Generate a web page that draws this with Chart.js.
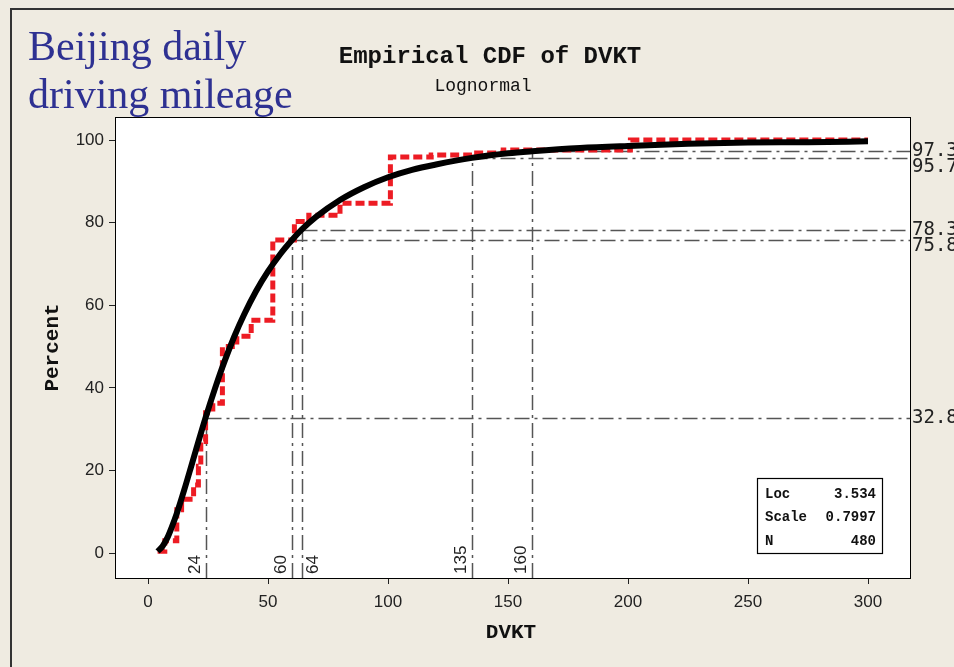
<!DOCTYPE html>
<html>
<head>
<meta charset="utf-8">
<script src="https://cdn.jsdelivr.net/npm/chart.js@4/dist/chart.umd.min.js"></script>
<style>
    html, body { margin: 0; padding: 0; background: #efebe1; }
    #wrap { position: relative; width: 954px; height: 667px; }
</style>
</head>
<body>
<div id="wrap"><canvas id="cdf" width="954" height="667"></canvas></div>
<script>
// Axis ticks
const xTicks = [0, 50, 100, 150, 200, 250, 300];
const yTicks = [0, 20, 40, 60, 80, 100];

// Empirical CDF (step points)
const ecdfX = [4, 7, 12, 14, 19, 21, 22, 24, 27, 31, 37, 43, 52, 61, 67, 80, 101, 118, 135, 148, 201, 300];
const ecdfY = [0.4, 3, 10.5, 13, 16.5, 21, 27, 34, 36.3, 50, 52.5, 56.4, 75.8, 80.3, 81.8, 84.7, 95.9, 96.4, 96.9, 97.6, 100, 100];

// Fitted lognormal curve
const fitX = [4, 6, 8, 10, 12, 15, 18, 20, 24, 28, 32, 36, 40, 45, 50, 55, 60, 64, 70, 80, 90, 100, 110, 120, 135, 150, 160, 180, 200, 225, 250, 275, 300];
const fitY = [0.4, 1.6, 3.6, 6.4, 9.6, 15.1, 21.0, 25.0, 32.8, 40.0, 46.6, 52.5, 57.7, 63.4, 68.2, 72.3, 75.8, 78.3, 81.4, 85.5, 88.6, 91.0, 92.8, 94.1, 95.7, 96.8, 97.3, 98.1, 98.6, 99.1, 99.4, 99.5, 99.7];

// Reference lines
const refX = [24, 60, 64, 135, 160];
const refY = [32.8, 75.8, 78.3, 95.7, 97.3];

// Parameter table
const statNames = ['Loc', 'Scale', 'N'];
const statValues = ['3.534', '0.7997', '480'];

const tickFont = { family: "'Liberation Sans', Arial, sans-serif", size: 17 };

const decorations = {
    id: 'decorations',
    beforeDraw(chart) {
        const { ctx, chartArea: a } = chart;
        ctx.save();
        ctx.fillStyle = '#efebe1';
        ctx.fillRect(0, 0, chart.width, chart.height);
        // slide frame
        ctx.strokeStyle = '#333';
        ctx.lineWidth = 2;
        ctx.beginPath();
        ctx.moveTo(11, chart.height);
        ctx.lineTo(11, 9);
        ctx.lineTo(chart.width, 9);
        ctx.stroke();
        ctx.fillStyle = '#fff';
        ctx.fillRect(a.left, a.top, a.right - a.left, a.bottom - a.top);
        ctx.restore();
    },
    beforeDatasetsDraw(chart) {
        const { ctx, chartArea: a, scales: { x, y } } = chart;
        ctx.save();
        ctx.strokeStyle = '#555';
        ctx.lineWidth = 1.5;
        ctx.setLineDash([15, 5, 3, 5]);
        refX.forEach((v, i) => {
            const px = Math.round(x.getPixelForValue(v)) + 0.5;
            const py = Math.round(y.getPixelForValue(refY[i])) + 0.5;
            ctx.beginPath();
            ctx.moveTo(px, a.bottom);
            ctx.lineTo(px, py);
            ctx.stroke();
            ctx.beginPath();
            ctx.moveTo(px, py);
            ctx.lineTo(a.right, py);
            ctx.stroke();
        });
        ctx.restore();
    },
    afterDraw(chart) {
        const { ctx, chartArea: a, scales: { x, y } } = chart;
        ctx.save();
        // plot box
        ctx.strokeStyle = '#000';
        ctx.lineWidth = 1;
        ctx.strokeRect(a.left + 0.5, a.top + 0.5, a.right - a.left, a.bottom - a.top);

        // vertical value labels (left of the line, or right if crowded)
        ctx.fillStyle = '#222';
        ctx.font = "17px 'Liberation Sans', Arial, sans-serif";
        let lastPx = -100;
        refX.forEach(v => {
            const px = x.getPixelForValue(v);
            const crowded = px - lastPx < 20;
            ctx.save();
            ctx.translate(crowded ? px + 3 : px - 2, a.bottom - 4);
            ctx.rotate(-Math.PI / 2);
            ctx.textAlign = 'left';
            ctx.textBaseline = crowded ? 'top' : 'bottom';
            ctx.fillText(String(v), 0, 0);
            ctx.restore();
            lastPx = px;
        });

        // right-hand percent labels
        ctx.font = "19px 'DejaVu Sans Mono', monospace";
        ctx.textAlign = 'left';
        ctx.textBaseline = 'middle';
        const labs = refY.map(v => ({ v, py: y.getPixelForValue(v) })).sort((p, q) => p.py - q.py);
        let prev = -100;
        labs.forEach(l => {
            const py = Math.max(l.py, prev + 16);
            ctx.fillText(l.v.toFixed(1), a.right + 2, py);
            prev = py;
        });

        // titles
        ctx.fillStyle = '#2e3192';
        ctx.font = "42px 'Liberation Serif', 'Times New Roman', serif";
        ctx.textBaseline = 'alphabetic';
        ctx.fillText('Beijing daily', 28, 60);
        ctx.fillText('driving mileage', 28, 108);

        ctx.fillStyle = '#111';
        ctx.textAlign = 'center';
        ctx.textBaseline = 'middle';
        ctx.font = "bold 24px 'Liberation Mono', 'Courier New', monospace";
        ctx.fillText('Empirical CDF of DVKT', 490, 57);
        ctx.font = "18px 'Liberation Mono', 'Courier New', monospace";
        ctx.fillText('Lognormal', 483, 86);

        // axis titles
        ctx.font = "bold 21px 'Liberation Mono', 'Courier New', monospace";
        ctx.fillText('DVKT', (x.getPixelForValue(150) + 3), 633);
        ctx.save();
        ctx.translate(53, (a.top + a.bottom) / 2);
        ctx.rotate(-Math.PI / 2);
        ctx.fillText('Percent', 0, 0);
        ctx.restore();

        // parameter table
        const bx = a.right - 153, by = a.bottom - 100, bw = 125, bh = 75;
        ctx.fillStyle = '#fff';
        ctx.fillRect(bx, by, bw, bh);
        ctx.strokeStyle = '#000';
        ctx.lineWidth = 1.2;
        ctx.strokeRect(bx + 0.5, by + 0.5, bw, bh);
        ctx.fillStyle = '#111';
        ctx.font = "bold 14px 'Liberation Mono', 'Courier New', monospace";
        statNames.forEach((n, i) => {
            const ty = by + 16 + i * 23.5;
            ctx.textAlign = 'left';
            ctx.fillText(n, bx + 8, ty);
            ctx.textAlign = 'right';
            ctx.fillText(statValues[i], bx + bw - 6, ty);
        });
        ctx.restore();
    }
};

new Chart(document.getElementById('cdf'), {
    type: 'line',
    data: {
        datasets: [
            {
                label: 'Lognormal fit',
                data: fitX.map((v, i) => ({ x: v, y: fitY[i] })),
                borderColor: '#000',
                borderWidth: 6,
                pointRadius: 0,
                cubicInterpolationMode: 'monotone',
                fill: false
            },
            {
                label: 'Empirical',
                data: ecdfX.map((v, i) => ({ x: v, y: ecdfY[i] })),
                borderColor: '#ed1c24',
                borderWidth: 5,
                borderDash: [9, 4],
                pointRadius: 0,
                stepped: 'before',
                fill: false
            }
        ]
    },
    options: {
        responsive: false,
        animation: false,
        devicePixelRatio: 1,
        layout: { padding: { left: 0, top: 117, right: 44, bottom: 0 } },
        plugins: {
            legend: { display: false },
            tooltip: { enabled: false }
        },
        scales: {
            x: {
                type: 'linear',
                min: -13.75,
                max: 317.5,
                afterBuildTicks: s => { s.ticks = xTicks.map(v => ({ value: v })); },
                afterFit: s => { s.height = 89; },
                ticks: { font: tickFont, color: '#222', padding: 8, maxRotation: 0, autoSkip: false },
                grid: { drawOnChartArea: false, tickLength: 6, color: '#222' },
                border: { color: '#000', width: 1 }
            },
            y: {
                type: 'linear',
                min: -6.05,
                max: 105.6,
                afterBuildTicks: s => { s.ticks = yTicks.map(v => ({ value: v })); },
                afterFit: s => { s.width = 115; },
                ticks: { font: tickFont, color: '#222', padding: 5, autoSkip: false },
                grid: { drawOnChartArea: false, tickLength: 6, color: '#222' },
                border: { color: '#000', width: 1 }
            }
        }
    },
    plugins: [decorations]
});
</script>
</body>
</html>
